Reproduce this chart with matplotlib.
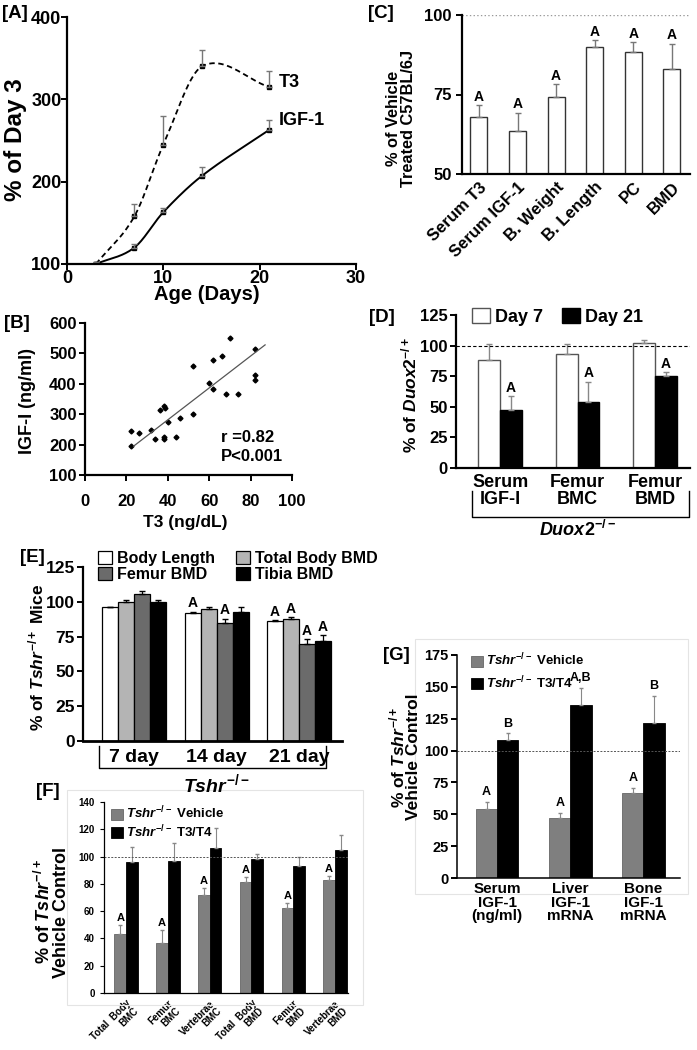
import matplotlib
matplotlib.use('Agg')
import matplotlib.pyplot as plt
import numpy as np
from matplotlib.patches import Rectangle

plt.rcParams['font.family'] = ['Liberation Sans', 'DejaVu Sans']
plt.rcParams['font.weight'] = 'bold'
plt.rcParams['mathtext.fontset'] = 'custom'
plt.rcParams['mathtext.rm'] = 'Liberation Sans:bold'
plt.rcParams['mathtext.it'] = 'Liberation Sans:bold:italic'
plt.rcParams['mathtext.bf'] = 'Liberation Sans:bold'

W, H = 697, 1050

# ---- data ----
# [A] % of day 3
a_days = [3, 7, 10, 14, 21]
a_t3 = [100, 158, 245, 340, 315]
a_t3_err = [2, 15, 35, 20, 20]
a_igf = [100, 120, 163, 207, 263]
a_igf_err = [3, 4, 5, 11, 12]

# [B] scatter + fitted line ends
b_t3 = [22, 22, 26, 32, 34, 36, 38, 38.5, 38, 38, 40, 44, 46, 52, 52, 60, 62, 62,
        66, 68, 70, 74, 82, 82, 82]
b_igf = [245, 196, 239, 248, 218, 314, 326, 321, 226, 217, 273, 226, 288, 459, 300,
         403, 479, 383, 491, 365, 550, 365, 514, 429, 414]
b_fit_t3 = [23.5, 87]
b_fit_igf = [195, 528]

# [C]
c_labels = ['Serum T3', 'Serum IGF-1', 'B. Weight', 'B. Length', 'PC', 'BMD']
c_vals = [68, 63.5, 74.2, 89.8, 88.5, 83]
c_err = [3.6, 5.8, 4.0, 2.3, 3.0, 8.0]

# [D]
d_labels = ['Serum\nIGF-I', 'Femur\nBMC', 'Femur\nBMD']
d_day7 = [88.5, 93, 102]
d_day7_err = [12.5, 8.5, 2.8]
d_day21 = [47, 54, 75]
d_day21_err = [12, 16.5, 3.5]

# [E]
e_groups = ['7 day', '14 day', '21 day']
e_series = ['Body Length', 'Total Body BMD', 'Femur BMD', 'Tibia BMD']
e_vals = {
    'Body Length': [96, 92, 86],
    'Total Body BMD': [100, 95, 87.5],
    'Femur BMD': [105.5, 85, 70],
    'Tibia BMD': [100, 93, 72],
}
e_err = {
    'Body Length': [0.5, 1, 1],
    'Total Body BMD': [1.5, 1, 1.5],
    'Femur BMD': [2.5, 3, 3],
    'Tibia BMD': [1.5, 3, 4],
}
e_sig = {
    'Body Length': [0, 1, 1],
    'Total Body BMD': [0, 0, 1],
    'Femur BMD': [0, 1, 1],
    'Tibia BMD': [0, 0, 1],
}

# [F]
f_labels = ['Total  Body\nBMC', 'Femur\nBMC', 'Vertebrae\nBMC',
            'Total  Body\nBMD', 'Femur\nBMD', 'Vertebrae\nBMD']
f_veh = [43, 37, 72, 81, 62, 83]
f_veh_err = [7, 9, 5, 4, 4, 3]
f_t3t4 = [96, 96.5, 106, 98.5, 93, 105]
f_t3t4_err = [11, 13.5, 15, 3.5, 7, 11]

# [G]
g_labels = ['Serum\nIGF-1\n(ng/ml)', 'Liver\nIGF-1\nmRNA', 'Bone\nIGF-1\nmRNA']
g_veh = [54.5, 47, 67]
g_veh_err = [5, 4, 3.5]
g_t3t4 = [108, 136, 122]
g_t3t4_err = [5.5, 13, 21]
g_sig = ['B', 'A,B', 'B']

fig = plt.figure(figsize=(W / 100, H / 100), dpi=100)


def add_ax(x0, y0, x1, y1):
    return fig.add_axes([x0 / W, 1 - y1 / H, (x1 - x0) / W, (y1 - y0) / H])


def ftext(x, y, s, **kw):
    fig.text(x / W, 1 - y / H, s, **kw)


def style(ax, fs=12):
    for s in ['top', 'right']:
        ax.spines[s].set_visible(False)
    for s in ['left', 'bottom']:
        ax.spines[s].set_linewidth(1.6)
    ax.tick_params(direction='out', width=1.4, length=4, labelsize=fs)
    for t in ax.get_xticklabels() + ax.get_yticklabels():
        t.set_fontweight('bold')


def smooth(x, y, num=200):
    # cubic Hermite through the points, tangents from neighbours
    x = np.asarray(x, float)
    y = np.asarray(y, float)
    n = len(x)
    m = np.empty(n)
    m[0] = (y[1] - y[0]) / (x[1] - x[0])
    m[-1] = (y[-1] - y[-2]) / (x[-1] - x[-2])
    m[1:-1] = (y[2:] - y[:-2]) / (x[2:] - x[:-2])
    xs = np.linspace(x[0], x[-1], num)
    idx = np.clip(np.searchsorted(x, xs) - 1, 0, n - 2)
    h = x[idx + 1] - x[idx]
    t = (xs - x[idx]) / h
    h00 = 2 * t ** 3 - 3 * t ** 2 + 1
    h10 = t ** 3 - 2 * t ** 2 + t
    h01 = -2 * t ** 3 + 3 * t ** 2
    h11 = t ** 3 - t ** 2
    return xs, h00 * y[idx] + h10 * h * m[idx] + h01 * y[idx + 1] + h11 * h * m[idx + 1]


PL = 13.5  # panel letter size

# ---------- [A] ----------
ax = add_ax(67, 17, 356, 264)
xs, ys = smooth(a_days, a_t3)
ax.plot(xs, ys, 'k--', lw=1.3, dashes=(3, 2))
xs, ys = smooth(a_days, a_igf)
ax.plot(xs, ys, 'k-', lw=1.4)
ax.plot(a_days, a_t3, 'ks', ms=2.3)
ax.plot(a_days, a_igf, 'ks', ms=2.3)
ax.errorbar(a_days, a_t3, yerr=[np.zeros(5), a_t3_err], fmt='none', ecolor='#777777',
            elinewidth=1, capsize=2.5)
ax.errorbar(a_days, a_igf, yerr=[np.zeros(5), a_igf_err], fmt='none', ecolor='#777777',
            elinewidth=1, capsize=2.5)
ax.text(22, 320, 'T3', fontsize=13, fontweight='bold', va='center')
ax.text(22, 274, 'IGF-1', fontsize=13, fontweight='bold', va='center')
ax.set_xlim(0, 30)
ax.set_ylim(100, 400)
ax.set_xticks([0, 10, 20, 30])
ax.set_yticks([100, 200, 300, 400])
style(ax, 13)
ax.tick_params(pad=0)
ftext(16, 140, '% of Day 3', fontsize=17.5, fontweight='bold', rotation=90, ha='center', va='center')
ftext(207, 295, 'Age (Days)', fontsize=14.5, fontweight='bold', ha='center', va='center')
ftext(2, 14, '[A]', fontsize=PL, fontweight='bold', va='center')

# ---------- [B] ----------
ax = add_ax(85, 323, 292, 475)
ax.plot(b_t3, b_igf, 'kD', ms=2.5)
ax.plot(b_fit_t3, b_fit_igf, color='#555555', lw=0.9)
ax.text(65.5, 224, 'r =0.82', fontsize=12, fontweight='bold', va='center')
ax.text(65.5, 160, 'P<0.001', fontsize=12, fontweight='bold', va='center')
ax.set_xlim(0, 100)
ax.set_ylim(100, 600)
ax.set_xticks([0, 20, 40, 60, 80, 100])
ax.set_yticks([100, 200, 300, 400, 500, 600])
style(ax, 12)
ax.tick_params(axis='x', pad=10)
ax.tick_params(axis='y', pad=2)
ftext(28, 401, 'IGF-I (ng/ml)', fontsize=13, fontweight='bold', rotation=90, ha='center', va='center')
ftext(185, 522, 'T3 (ng/dL)', fontsize=12.5, fontweight='bold', ha='center', va='center')
ftext(4, 324, '[B]', fontsize=PL, fontweight='bold', va='center')

# ---------- [C] ----------
ax = add_ax(462, 15, 690, 174)
cx = np.arange(len(c_labels))
ax.bar(cx, c_vals, width=0.44, color='white', edgecolor='#333333', lw=1)
ax.errorbar(cx, c_vals, yerr=[np.zeros(6), c_err], fmt='none', ecolor='#777777',
            elinewidth=1, capsize=2.5)
for xi, v, e in zip(cx, c_vals, c_err):
    ax.text(xi, v + e + 0.4, 'A', fontsize=10, fontweight='bold', ha='center', va='bottom')
ax.axhline(100, color='#999999', ls=':', lw=1)
ax.set_xlim(-0.44, 5.47)
ax.set_ylim(50, 100)
ax.set_yticks([50, 75, 100])
ax.set_xticks(cx)
ax.set_xticklabels(c_labels, rotation=45, ha='right', rotation_mode='anchor')
style(ax, 12)
ax.tick_params(axis='x', length=0, pad=4)
ftext(401, 118, '% of Vehicle\nTreated C57BL/6J', fontsize=11.8, fontweight='bold', rotation=90,
      ha='center', va='center', linespacing=1.05)
ftext(368, 14, '[C]', fontsize=PL, fontweight='bold', va='center')

# ---------- [D] ----------
ax = add_ax(456, 315, 690, 468)
dx = np.arange(3)
bw = 0.28
ax.bar(dx - bw / 2, d_day7, width=bw, color='white', edgecolor='#555555', lw=1, label='Day 7')
ax.bar(dx + bw / 2, d_day21, width=bw, color='black', edgecolor='black', lw=1, label='Day 21')
ax.errorbar(dx - bw / 2, d_day7, yerr=[np.zeros(3), d_day7_err], fmt='none', ecolor='#888888',
            elinewidth=1, capsize=2)
ax.errorbar(dx + bw / 2, d_day21, yerr=[np.zeros(3), d_day21_err], fmt='none', ecolor='#888888',
            elinewidth=1, capsize=2)
for xi, v, e in zip(dx + bw / 2, d_day21, d_day21_err):
    ax.text(xi, v + e + 1, 'A', fontsize=10, fontweight='bold', ha='center', va='bottom')
ax.axhline(100, color='black', ls=(0, (3, 2)), lw=0.8)
ax.set_xlim(-0.57, 2.45)
ax.set_ylim(0, 125)
ax.set_yticks([0, 25, 50, 75, 100, 125])
ax.set_xticks(dx)
ax.set_xticklabels(d_labels, linespacing=1.05)
style(ax, 12)
ax.tick_params(axis='y', pad=2)
ax.tick_params(axis='x', length=0, pad=4)
ax.tick_params(axis='x', labelsize=13)
ax.legend(loc='upper left', bbox_to_anchor=(472 / W, 1 - 308 / H), bbox_transform=fig.transFigure,
          ncol=2, frameon=False, fontsize=13, handlelength=1.0, handleheight=0.9,
          handletextpad=0.3, columnspacing=1.0, borderpad=0, borderaxespad=0)
tr = ax.get_xaxis_transform()
ax.plot([-0.36, -0.36, 2.44, 2.44], [-0.15, -0.32, -0.32, -0.15], color='black', lw=1,
        transform=tr, clip_on=False)
ftext(578, 530, r'$\mathit{Duox2}^{-/-}$', fontsize=13, ha='center', va='center')
ftext(409, 395, r'% of $\mathit{Duox2}^{-/+}$', fontsize=12.5, rotation=90, ha='center', va='center')
ftext(369, 317, '[D]', fontsize=PL, fontweight='bold', va='center')

# ---------- [E] ----------
ax = add_ax(83, 567, 342, 741)
ex = np.arange(3)
ebw = 0.194
e_colors = {'Body Length': 'white', 'Total Body BMD': '#b4b4b4', 'Femur BMD': '#6b6b6b',
            'Tibia BMD': 'black'}
handles = {}
for i, s in enumerate(e_series):
    pos = ex + (i - 1.5) * ebw
    handles[s] = ax.bar(pos, e_vals[s], width=ebw, color=e_colors[s], edgecolor='black', lw=0.9,
                        label=s)
    ax.errorbar(pos, e_vals[s], yerr=[np.zeros(3), e_err[s]], fmt='none', ecolor='black',
                elinewidth=0.9, capsize=2)
    for xi, v, e, sg in zip(pos, e_vals[s], e_err[s], e_sig[s]):
        if sg:
            ax.text(xi, v + e + 1, 'A', fontsize=10, fontweight='bold', ha='center', va='bottom')
ax.set_xlim(-0.62, 2.52)
ax.set_ylim(0, 125)
ax.set_yticks([0, 25, 50, 75, 100, 125])
ax.set_xticks(ex)
ax.set_xticklabels(e_groups)
style(ax, 12.5)
ax.spines['bottom'].set_linewidth(2)
ax.tick_params(axis='y', pad=2)
ax.tick_params(axis='x', length=0, pad=6, labelsize=14)
order = ['Body Length', 'Femur BMD', 'Total Body BMD', 'Tibia BMD']
ax.legend([handles[s] for s in order], order, loc='upper left', bbox_to_anchor=(98 / W, 1 - 551 / H),
          bbox_transform=fig.transFigure, ncol=2, frameon=False, fontsize=11.5, handlelength=0.9,
          handleheight=0.9, handletextpad=0.3, columnspacing=1.3, labelspacing=0.05,
          borderpad=0, borderaxespad=0)
tr = ax.get_xaxis_transform()
ax.plot([-0.42, -0.42, 2.33, 2.33], [-0.03, -0.155, -0.155, -0.03], color='black', lw=1,
        transform=tr, clip_on=False)
ftext(216, 784, r'$\mathit{Tshr}^{-/-}$', fontsize=14, ha='center', va='center')
ftext(36, 657, r'% of $\mathit{Tshr}^{-/+}$ Mice', fontsize=12.5, rotation=90, ha='center', va='center')
ftext(20, 558, '[E]', fontsize=PL, fontweight='bold', va='center')

# ---------- [F] ----------
fig.add_artist(Rectangle((67 / W, 1 - 1005 / H), (363 - 67) / W, (1005 - 790) / H,
                         transform=fig.transFigure, fill=False, ec='#e4e4e4', lw=0.8))
ax = add_ax(104, 802, 348, 993)
fx = np.arange(6)
fbw = 0.28
hv = ax.bar(fx - fbw / 2, f_veh, width=fbw, color='#7f7f7f', edgecolor='#666666', lw=0.6)
ht = ax.bar(fx + fbw / 2, f_t3t4, width=fbw, color='black', edgecolor='black', lw=0.6)
ax.errorbar(fx - fbw / 2, f_veh, yerr=[np.zeros(6), f_veh_err], fmt='none', ecolor='#888888',
            elinewidth=0.8, capsize=1.5)
ax.errorbar(fx + fbw / 2, f_t3t4, yerr=[np.zeros(6), f_t3t4_err], fmt='none', ecolor='#888888',
            elinewidth=0.8, capsize=1.5)
for xi, v, e in zip(fx - fbw / 2, f_veh, f_veh_err):
    ax.text(xi, v + e + 1.5, 'A', fontsize=8, fontweight='bold', ha='center', va='bottom')
ax.axhline(100, color='#555555', ls=(0, (2, 1.5)), lw=0.7)
ax.set_xlim(-0.53, 5.31)
ax.set_ylim(0, 140)
ax.set_yticks(np.arange(0, 141, 20))
ax.set_xticks(fx)
ax.set_xticklabels(f_labels, rotation=45, ha='right', rotation_mode='anchor', linespacing=1.0)
style(ax, 7)
ax.spines['left'].set_linewidth(0.9)
ax.spines['bottom'].set_linewidth(0.9)
ax.tick_params(width=0.8, length=3)
ax.tick_params(axis='x', length=0, pad=4)
ax.legend([hv, ht], [r'$\mathit{Tshr}^{-/-}$ Vehicle', r'$\mathit{Tshr}^{-/-}$ T3/T4'],
          loc='upper left', bbox_to_anchor=(111 / W, 1 - 805 / H), bbox_transform=fig.transFigure,
          frameon=False, fontsize=9.5, handlelength=0.9, handleheight=0.9, handletextpad=0.2,
          labelspacing=0.15, borderpad=0, borderaxespad=0)
ftext(52, 912, '% of $\\mathit{Tshr}^{-/+}$\nVehicle Control', fontsize=13, rotation=90,
      ha='center', va='center', linespacing=0.95)
ftext(36, 792, '[F]', fontsize=PL, fontweight='bold', va='center')

# ---------- [G] ----------
fig.add_artist(Rectangle((415 / W, 1 - 894 / H), (688 - 415) / W, (894 - 639) / H,
                         transform=fig.transFigure, fill=False, ec='#e4e4e4', lw=0.8))
ax = add_ax(457, 655, 680, 878)
gx = np.arange(3)
gbw = 0.29
hv = ax.bar(gx - gbw / 2, g_veh, width=gbw, color='#7f7f7f', edgecolor='#666666', lw=0.6)
ht = ax.bar(gx + gbw / 2, g_t3t4, width=gbw, color='black', edgecolor='black', lw=0.6)
ax.errorbar(gx - gbw / 2, g_veh, yerr=[np.zeros(3), g_veh_err], fmt='none', ecolor='#888888',
            elinewidth=0.8, capsize=1.5)
ax.errorbar(gx + gbw / 2, g_t3t4, yerr=[np.zeros(3), g_t3t4_err], fmt='none', ecolor='#888888',
            elinewidth=0.8, capsize=1.5)
for xi, v, e in zip(gx - gbw / 2, g_veh, g_veh_err):
    ax.text(xi, v + e + 3, 'A', fontsize=9, fontweight='bold', ha='center', va='bottom')
for xi, v, e, s in zip(gx + gbw / 2, g_t3t4, g_t3t4_err, g_sig):
    ax.text(xi, v + e + 3, s, fontsize=9, fontweight='bold', ha='center', va='bottom')
ax.axhline(100, color='#555555', ls=(0, (2, 1.5)), lw=0.7)
ax.set_xlim(-0.55, 2.5)
ax.set_ylim(0, 175)
ax.set_yticks([0, 25, 50, 75, 100, 125, 150, 175])
ax.set_xticks(gx)
ax.set_xticklabels(g_labels, linespacing=0.95)
style(ax, 10.5)
ax.spines['left'].set_linewidth(1.1)
ax.spines['bottom'].set_linewidth(1.1)
ax.tick_params(axis='y', pad=2)
ax.tick_params(axis='x', length=0, pad=3, labelsize=11)
ax.legend([hv, ht], [r'$\mathit{Tshr}^{-/-}$ Vehicle', r'$\mathit{Tshr}^{-/-}$ T3/T4'],
          loc='upper left', bbox_to_anchor=(471 / W, 1 - 652 / H), bbox_transform=fig.transFigure,
          frameon=False, fontsize=9.5, handlelength=0.9, handleheight=0.9, handletextpad=0.2,
          labelspacing=0.45, borderpad=0, borderaxespad=0)
ftext(404, 757, '% of $\\mathit{Tshr}^{-/+}$\nVehicle Control', fontsize=12.5, rotation=90,
      ha='center', va='center', linespacing=0.9)
ftext(383, 655, '[G]', fontsize=PL, fontweight='bold', va='center')

fig.savefig('out.png', dpi=100)
